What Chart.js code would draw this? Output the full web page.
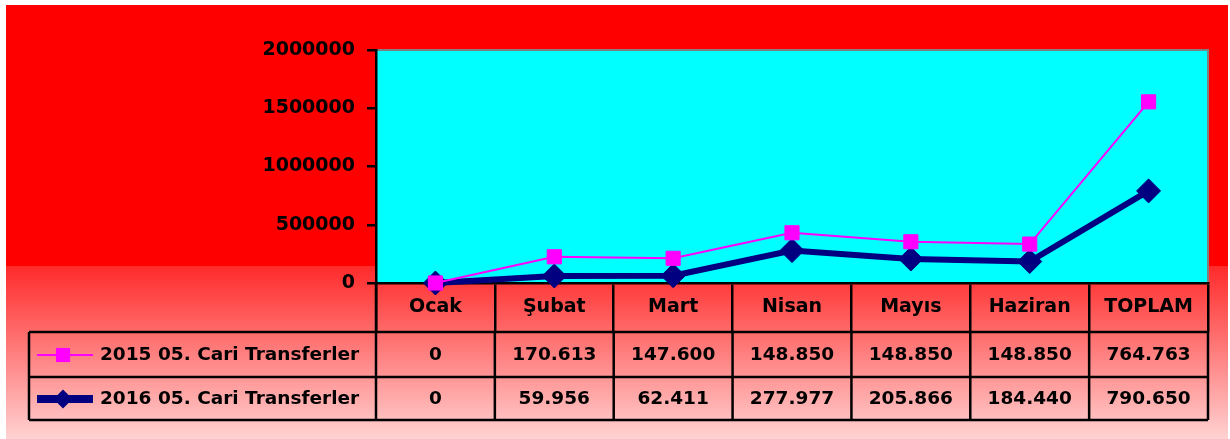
<!DOCTYPE html>
<html>
<head>
<meta charset="utf-8">
<style>
  html, body { margin: 0; padding: 0; background: #fff; }
  canvas { display: block; }
</style>
<script src="https://cdn.jsdelivr.net/npm/chart.js@4.4.1/dist/chart.umd.min.js"></script>
</head>
<body>
<canvas id="grafik" width="1230" height="439"></canvas>
<script>
/* Cari Transferler 2015 / 2016 — line chart with data table */

var aylar = ['Ocak', 'Şubat', 'Mart', 'Nisan', 'Mayıs', 'Haziran', 'TOPLAM'];

// plotted values
var seri2015 = [0, 225000, 212000, 431000, 354000, 334000, 1555000];
var seri2016 = [0, 59956, 62411, 277977, 205866, 184440, 790650];

// table texts
var tablo2015 = ['0', '170.613', '147.600', '148.850', '148.850', '148.850', '764.763'];
var tablo2016 = ['0', '59.956', '62.411', '277.977', '205.866', '184.440', '790.650'];

var etiketler = ['2015 05. Cari Transferler', '2016 05. Cari Transferler'];

var FONT = 'DejaVu Sans';

var tabloPlugin = {
  id: 'tablo',
  beforeDraw: function (chart) {
    var ctx = chart.ctx, W = chart.width, H = chart.height, a = chart.chartArea;
    ctx.save();
    ctx.fillStyle = '#ffffff';
    ctx.fillRect(0, 0, W, H);
    ctx.fillStyle = '#ff0000';
    ctx.fillRect(6, 5, W - 8, H - 5);
    var g = ctx.createLinearGradient(0, 266, 0, H);
    g.addColorStop(0, '#ff2a2a');
    g.addColorStop(1, '#ffd2d2');
    ctx.fillStyle = g;
    ctx.fillRect(6, 266, W - 8, H - 266);
    // plot area
    ctx.fillStyle = '#00ffff';
    ctx.fillRect(a.left, a.top, a.right - a.left, a.bottom - a.top);
    ctx.strokeStyle = '#808080'; ctx.lineWidth = 2;
    ctx.beginPath();
    ctx.moveTo(a.left, a.top); ctx.lineTo(a.right, a.top); ctx.lineTo(a.right, a.bottom);
    ctx.stroke();
    ctx.restore();
  },
  afterDraw: function (chart) {
    var ctx = chart.ctx, a = chart.chartArea, xs = chart.scales.x;
    var n = aylar.length, cw = (a.right - a.left) / n;
    var sol = 29, ust = 332, orta = 377, alt = 420;
    ctx.save();
    ctx.strokeStyle = '#000'; ctx.lineWidth = 2.5;
    ctx.beginPath();
    [ust, orta, alt].forEach(function (y) { ctx.moveTo(sol, y); ctx.lineTo(a.right, y); });
    ctx.moveTo(sol, ust); ctx.lineTo(sol, alt);
    for (var i = 0; i <= n; i++) {
      var x = a.left + i * cw;
      ctx.moveTo(x, i === 0 ? a.bottom : ust); ctx.lineTo(x, alt);
    }
    ctx.stroke();

    // values
    ctx.fillStyle = '#000';
    ctx.font = 'bold 18.5px "' + FONT + '"';
    ctx.textAlign = 'center'; ctx.textBaseline = 'middle';
    var rows = [[tablo2015, 355], [tablo2016, 399]];
    rows.forEach(function (r) {
      r[0].forEach(function (t, i) { ctx.fillText(t, xs.getPixelForValue(i), r[1]); });
    });

    // legend keys
    chart.data.datasets.forEach(function (ds, k) {
      var y = rows[k][1];
      ctx.strokeStyle = ds.borderColor; ctx.lineWidth = ds.borderWidth + (k ? 2 : 0);
      ctx.beginPath(); ctx.moveTo(37, y); ctx.lineTo(93, y); ctx.stroke();
      ctx.fillStyle = ds.pointBackgroundColor;
      Chart.helpers.drawPoint(ctx, { pointStyle: ds.pointStyle, radius: k ? 9.5 : 10, borderWidth: 0 }, 63, y);
      ctx.fillStyle = '#000';
      ctx.textAlign = 'left';
      ctx.fillText(etiketler[k], 100, y);
    });
    ctx.restore();
  }
};

var yaziTipi = function (s) { return { family: FONT, weight: 'bold', size: s }; };

new Chart(document.getElementById('grafik'), {
  type: 'line',
  data: {
    labels: aylar,
    datasets: [
      { label: etiketler[0], data: seri2015, borderColor: '#ff00ff', borderWidth: 2,
        pointStyle: 'rect', pointRadius: 10, pointBackgroundColor: '#ff00ff', pointBorderColor: '#ff00ff',
        pointBorderWidth: 1, tension: 0, clip: false },
      { label: etiketler[1], data: seri2016, borderColor: '#000080', borderWidth: 6,
        pointStyle: 'rectRot', pointRadius: 12, pointBackgroundColor: '#000080', pointBorderColor: '#000080',
        pointBorderWidth: 1, tension: 0, clip: false }
    ]
  },
  options: {
    responsive: false, animation: false,
    layout: { padding: { top: 50, right: 22, left: 0, bottom: 0 } },
    plugins: { legend: { display: false }, tooltip: { enabled: false } },
    scales: {
      x: {
        offset: true,
        grid: { display: true, drawOnChartArea: false, offset: true, tickLength: 49, color: '#000', lineWidth: 2.5 },
        border: { display: true, color: '#000', width: 2.5 },
        ticks: { color: '#000', font: yaziTipi(19), padding: -36, maxRotation: 0 },
        afterFit: function (s) { s.height = 156; }
      },
      y: {
        min: 0, max: 2000000,
        grid: { drawOnChartArea: false, tickLength: 9, color: '#000', lineWidth: 2.5 },
        border: { display: true, color: '#000', width: 2.5 },
        ticks: { stepSize: 500000, color: '#000', font: yaziTipi(19), padding: 12,
          callback: function (v) { return String(v); } },
        afterFit: function (s) { s.width = 376; }
      }
    }
  },
  plugins: [tabloPlugin]
});
</script>
</body>
</html>
